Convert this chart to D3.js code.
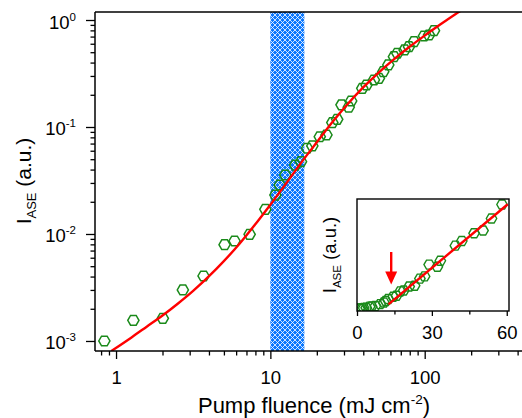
<!DOCTYPE html>
<html>
<head>
<meta charset="utf-8">
<script src="https://cdn.jsdelivr.net/npm/d3@7"></script>
<style>
  html, body { margin: 0; padding: 0; background: #fff; }
  svg { display: block; font-family: "Liberation Sans", Arial, Helvetica, sans-serif; }
</style>
</head>
<body>
<svg id="chart" width="522" height="418"></svg>
<script>
// Measured ASE intensity versus pump fluence
const fluence = [0.84, 1.295, 2.01, 2.71, 3.69, 5.05, 5.86, 7.34, 9.28, 10.78,
  11.5, 12.5, 14.5, 15.8, 17.3, 18.7, 20.9, 23.1, 25.2, 27.1,
  28.9, 32.2, 33.4, 39.4, 42.0, 46.9, 50.5, 53.9, 58.1, 63.2,
  66.5, 74.1, 79.1, 85.3, 98.9, 106.6, 114.9];
const intensity = [0.00100, 0.00156, 0.00163, 0.0030, 0.00405, 0.00794, 0.0086, 0.00993, 0.0170, 0.0231,
  0.0287, 0.0356, 0.0441, 0.0474, 0.0633, 0.0665, 0.0811, 0.0842, 0.110, 0.118,
  0.161, 0.153, 0.175, 0.230, 0.247, 0.275, 0.285, 0.329, 0.380, 0.454,
  0.489, 0.525, 0.563, 0.627, 0.709, 0.724, 0.794];

// Fitted model curve, sampled along the fluence axis
const fitFluence = [0.933, 1.26, 1.58, 2.0, 2.51, 3.16, 4.47, 6.31, 7.94, 10,
  12.6, 15.8, 20, 25.1, 31.6, 39.8, 50.1, 63.1, 79.4, 100,
  126, 158, 178];
const fitIntensity = [0.000807, 0.00108, 0.00136, 0.00173, 0.00223, 0.00294, 0.00472, 0.00811, 0.0122, 0.0188,
  0.0294, 0.0462, 0.0719, 0.110, 0.163, 0.233, 0.321, 0.429, 0.559, 0.715,
  0.906, 1.132, 1.265];

// Linear fit above threshold (inset)
const insetFitFluence = [12.6, 60.4];
const insetFitIntensity = [0.0164, 0.381];
const thresholdFluence = 13.7;
const insetMaxFluence = 60;

// Shaded fluence window
const bandFluence = [10, 16.6];

// Tick values
const xMajorTicks = [1, 10, 100];
const xMinorTicks = [0.8, 0.9, 2, 3, 4, 5, 6, 7, 8, 9, 20, 30, 40, 50, 60, 70, 80, 90, 200, 300, 400];
const yExponents = [0, -1, -2, -3];
const yMinorTicks = [0.002, 0.003, 0.004, 0.005, 0.006, 0.007, 0.008, 0.009,
  0.02, 0.03, 0.04, 0.05, 0.06, 0.07, 0.08, 0.09,
  0.2, 0.3, 0.4, 0.5, 0.6, 0.7, 0.8, 0.9];
const insetMajorTicks = [0, 30, 60];
const insetMinorTicks = [15, 45];

const svg = d3.select("#chart");
const defs = svg.append("defs");

const plot = { left: 95, right: 524, top: 12, bottom: 351 };

const x = d3.scaleLog().domain([0.7306, 440]).range([plot.left, plot.right]);
const y = d3.scaleLog().domain([8.06e-4, 1.188]).range([plot.bottom, plot.top]);

// cross-hatch fill for the fluence window
const cell = 5;
const pat = defs.append("pattern")
  .attr("id", "xhatch")
  .attr("patternUnits", "userSpaceOnUse")
  .attr("width", cell).attr("height", cell);
pat.append("rect").attr("width", cell).attr("height", cell).attr("fill", "#0a78ff");
pat.append("path")
  .attr("d", `M0,0L${cell},${cell}M${cell},0L0,${cell}`)
  .attr("stroke", "#ffffff").attr("stroke-width", 0.8);

defs.append("clipPath").attr("id", "plotClip")
  .append("rect")
  .attr("x", plot.left).attr("y", plot.top)
  .attr("width", plot.right - plot.left).attr("height", plot.bottom - plot.top);

const hexPath = r => {
  const h = r * Math.sqrt(3) / 2;
  return `M${r},0L${r / 2},${h}L${-r / 2},${h}L${-r},0L${-r / 2},${-h}L${r / 2},${-h}Z`;
};

const body = svg.append("g").attr("clip-path", "url(#plotClip)");

// shaded window
body.append("rect")
  .attr("x", x(bandFluence[0]))
  .attr("y", plot.top)
  .attr("width", x(bandFluence[1]) - x(bandFluence[0]))
  .attr("height", plot.bottom - plot.top)
  .attr("fill", "url(#xhatch)");

// data markers
const pts = fluence.map((f, i) => ({ f, v: intensity[i] }));
body.append("g").selectAll("path")
  .data(pts).join("path")
  .attr("transform", d => `translate(${x(d.f)},${y(d.v)})`)
  .attr("d", hexPath(5.6))
  .attr("fill", "none")
  .attr("stroke", "#1a8a1a")
  .attr("stroke-width", 1.5);

// fit curve
const fitPts = fitFluence.map((f, i) => ({ f, v: fitIntensity[i] }));
body.append("path")
  .datum(fitPts)
  .attr("d", d3.line().x(d => x(d.f)).y(d => y(d.v)).curve(d3.curveMonotoneX))
  .attr("fill", "none")
  .attr("stroke", "#ff0000")
  .attr("stroke-width", 2.4);

// axes
const axisColor = "#000";
const styleAxis = g => {
  g.select(".domain").remove();
  g.selectAll(".tick line").attr("stroke", axisColor).attr("stroke-width", 1.3);
};

svg.append("g")
  .attr("transform", `translate(0,${plot.bottom})`)
  .call(d3.axisBottom(x).tickValues(xMinorTicks).tickSize(4.5).tickFormat(""))
  .call(styleAxis);

const xMaj = svg.append("g")
  .attr("transform", `translate(0,${plot.bottom})`)
  .call(d3.axisBottom(x).tickValues(xMajorTicks).tickSize(8).tickPadding(8).tickFormat(d3.format("d")))
  .call(styleAxis);
xMaj.selectAll(".tick text")
  .attr("font-size", 18.5).attr("fill", "#000")
  .attr("font-family", "'Liberation Sans', Arial, sans-serif")
  .attr("dy", "0.9em");

svg.append("g")
  .attr("transform", `translate(${plot.left},0)`)
  .call(d3.axisLeft(y).tickValues(yMinorTicks).tickSize(4.5).tickFormat(""))
  .call(styleAxis);

const yMaj = svg.append("g")
  .attr("transform", `translate(${plot.left},0)`)
  .call(d3.axisLeft(y).tickValues(yExponents.map(e => Math.pow(10, e))).tickSize(9).tickFormat(""))
  .call(styleAxis);
yMaj.selectAll(".tick").each(function (d) {
  const e = Math.round(Math.log10(d));
  const t = d3.select(this).append("text")
    .attr("x", -19).attr("y", 8)
    .attr("text-anchor", "end")
    .attr("fill", "#000")
    .attr("font-size", 18.5)
    .attr("font-family", "'Liberation Sans', Arial, sans-serif");
  t.append("tspan").text("10");
  t.append("tspan").attr("font-size", 11.5).attr("dy", -8).text(String(e));
});

// frame lines
const frame = svg.append("g").attr("stroke", axisColor).attr("stroke-width", 1.5).attr("fill", "none");
frame.append("line").attr("x1", plot.left).attr("x2", plot.left).attr("y1", plot.top).attr("y2", plot.bottom);
frame.append("line").attr("x1", plot.left).attr("x2", plot.right).attr("y1", plot.bottom).attr("y2", plot.bottom);
frame.append("line").attr("x1", plot.left).attr("x2", plot.right).attr("y1", plot.top).attr("y2", plot.top);

// axis titles
const yTitle = svg.append("text")
  .attr("transform", "translate(31,181) rotate(-90)")
  .attr("text-anchor", "middle")
  .attr("font-size", 21).attr("fill", "#000");
yTitle.append("tspan").text("I");
yTitle.append("tspan").attr("font-size", 13).attr("dy", 5).text("ASE");
yTitle.append("tspan").attr("dy", -5).text(" (a.u.)");

const xTitle = svg.append("text")
  .attr("x", 314).attr("y", 413)
  .attr("text-anchor", "middle")
  .attr("font-size", 22).attr("fill", "#000");
xTitle.append("tspan").text("Pump fluence (mJ cm");
xTitle.append("tspan").attr("font-size", 13.5).attr("dy", -9).text("-2");
xTitle.append("tspan").attr("dy", 9).text(")");

// ---- inset: linear scale near threshold ----
const inset = { left: 357, right: 509, top: 199, bottom: 311 };
const xi = d3.scaleLinear().domain([0, 60.9]).range([inset.left, inset.right]);
const yi = d3.scaleLinear().domain([-0.008, 0.40]).range([inset.bottom, inset.top]);

defs.append("clipPath").attr("id", "insetClip")
  .append("rect")
  .attr("x", inset.left).attr("y", inset.top)
  .attr("width", inset.right - inset.left).attr("height", inset.bottom - inset.top);

svg.append("rect")
  .attr("x", inset.left).attr("y", inset.top)
  .attr("width", inset.right - inset.left).attr("height", inset.bottom - inset.top)
  .attr("fill", "#fff");

const ib = svg.append("g").attr("clip-path", "url(#insetClip)");
ib.append("g").selectAll("path")
  .data(pts.filter(d => d.f <= insetMaxFluence)).join("path")
  .attr("transform", d => `translate(${xi(d.f)},${yi(d.v)})`)
  .attr("d", hexPath(5.2))
  .attr("fill", "none")
  .attr("stroke", "#1a8a1a")
  .attr("stroke-width", 1.4);

const insetFit = insetFitFluence.map((f, i) => ({ f, v: insetFitIntensity[i] }));
ib.append("path")
  .datum(insetFit)
  .attr("d", d3.line().x(d => xi(d.f)).y(d => yi(d.v)))
  .attr("fill", "none")
  .attr("stroke", "#ff0000")
  .attr("stroke-width", 2.4);

svg.append("rect")
  .attr("x", inset.left).attr("y", inset.top)
  .attr("width", inset.right - inset.left).attr("height", inset.bottom - inset.top)
  .attr("fill", "none").attr("stroke", "#000").attr("stroke-width", 1.4);

svg.append("g")
  .attr("transform", `translate(0,${inset.bottom})`)
  .call(d3.axisBottom(xi).tickValues(insetMinorTicks).tickSize(3.5).tickFormat(""))
  .call(styleAxis);
const xiMaj = svg.append("g")
  .attr("transform", `translate(0,${inset.bottom})`)
  .call(d3.axisBottom(xi).tickValues(insetMajorTicks).tickSize(5).tickPadding(6).tickFormat(d3.format("d")))
  .call(styleAxis);
xiMaj.selectAll(".tick text")
  .attr("font-size", 18.5).attr("fill", "#000")
  .attr("font-family", "'Liberation Sans', Arial, sans-serif")
  .attr("dy", "0.9em");

// threshold arrow
const ax = xi(thresholdFluence);
const tipY = 284.5;
svg.append("line")
  .attr("x1", ax).attr("x2", ax).attr("y1", 252).attr("y2", tipY - 10)
  .attr("stroke", "#ff0000").attr("stroke-width", 2.4);
svg.append("path")
  .attr("d", `M${ax - 6},${tipY - 13}L${ax + 6},${tipY - 13}L${ax},${tipY}Z`)
  .attr("fill", "#ff0000");

const yiTitle = svg.append("text")
  .attr("transform", "translate(336,255) rotate(-90)")
  .attr("text-anchor", "middle")
  .attr("font-size", 18.5).attr("fill", "#000");
yiTitle.append("tspan").text("I");
yiTitle.append("tspan").attr("font-size", 11.5).attr("dy", 4.5).text("ASE");
yiTitle.append("tspan").attr("dy", -4.5).text(" (a.u.)");
</script>
</body>
</html>
